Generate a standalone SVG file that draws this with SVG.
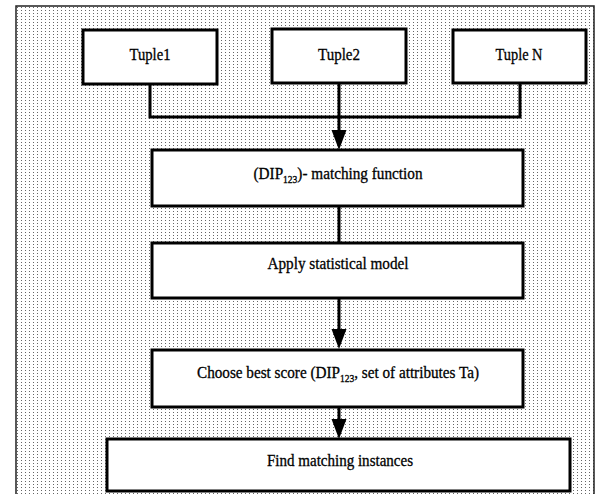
<svg xmlns="http://www.w3.org/2000/svg" width="600" height="494" viewBox="0 0 600 494">
  <defs>
    <pattern id="stip" width="4" height="3" patternUnits="userSpaceOnUse">
      <rect width="4" height="3" fill="#ffffff"/>
      <rect x="1" y="1" width="1" height="1" fill="#666666"/>
    </pattern>
    <marker id="arr" viewBox="0 -8 22 16" refX="10" refY="0" markerWidth="22" markerHeight="16" markerUnits="userSpaceOnUse" orient="auto">
      <path d="M0,-7.5 L20,0 L0,7.5 Z" fill="#000"/>
    </marker>
  </defs>
  <style>
    .box { fill: #ffffff; stroke: #000; stroke-width: 3; }
    .lbl { font-family: "Liberation Serif", "Times New Roman", serif; font-size: 16px; fill: #000; text-anchor: middle; stroke: #000; stroke-width: 0.3; }
    .tup { font-size: 17px; }
    .sub { font-size: 10px; }
    .con { fill: none; stroke: #000; stroke-width: 3; }
  </style>
  <rect x="0" y="0" width="600" height="494" fill="#ffffff"/>
  <rect id="frame" x="16" y="6" width="578" height="495" fill="url(#stip)" stroke="#222" stroke-width="1.5"/>

  <g id="connectors">
    <path class="con" d="M150 84 V117 H520 V84"/>
    <path class="con" d="M339 83 V140" marker-end="url(#arr)"/>
    <path class="con" d="M339 206 V243"/>
    <path class="con" d="M339 298 V339" marker-end="url(#arr)"/>
    <path class="con" d="M339 407 V429" marker-end="url(#arr)"/>
  </g>

  <g id="tuple1">
    <rect class="box" x="83" y="30" width="134" height="54"/>
    <text class="lbl tup" x="150" y="60" textLength="41" lengthAdjust="spacingAndGlyphs">Tuple1</text>
  </g>
  <g id="tuple2">
    <rect class="box" x="272" y="29" width="134" height="54"/>
    <text class="lbl tup" x="339" y="60" textLength="42" lengthAdjust="spacingAndGlyphs">Tuple2</text>
  </g>
  <g id="tupleN">
    <rect class="box" x="453" y="30" width="133" height="53"/>
    <text class="lbl tup" x="519" y="60" textLength="47" lengthAdjust="spacingAndGlyphs">Tuple N</text>
  </g>
  <g id="matching">
    <rect class="box" x="152" y="150" width="371" height="56"/>
    <text class="lbl" x="338" y="179" textLength="169" lengthAdjust="spacingAndGlyphs">(DIP<tspan class="sub" dy="4">123</tspan><tspan dy="-4">)- matching function</tspan></text>
  </g>
  <g id="statistical">
    <rect class="box" x="152" y="243" width="371" height="55"/>
    <text class="lbl" x="338" y="269" textLength="141" lengthAdjust="spacingAndGlyphs">Apply statistical model</text>
  </g>
  <g id="bestscore">
    <rect class="box" x="152" y="350" width="371" height="57"/>
    <text class="lbl" x="338" y="378" textLength="282" lengthAdjust="spacingAndGlyphs">Choose best score (DIP<tspan class="sub" dy="4">123</tspan><tspan dy="-4">, set of attributes Ta)</tspan></text>
  </g>
  <g id="findmatch">
    <rect class="box" x="107" y="439" width="463" height="52"/>
    <text class="lbl" x="340" y="466" textLength="146" lengthAdjust="spacingAndGlyphs">Find matching instances</text>
  </g>
</svg>
